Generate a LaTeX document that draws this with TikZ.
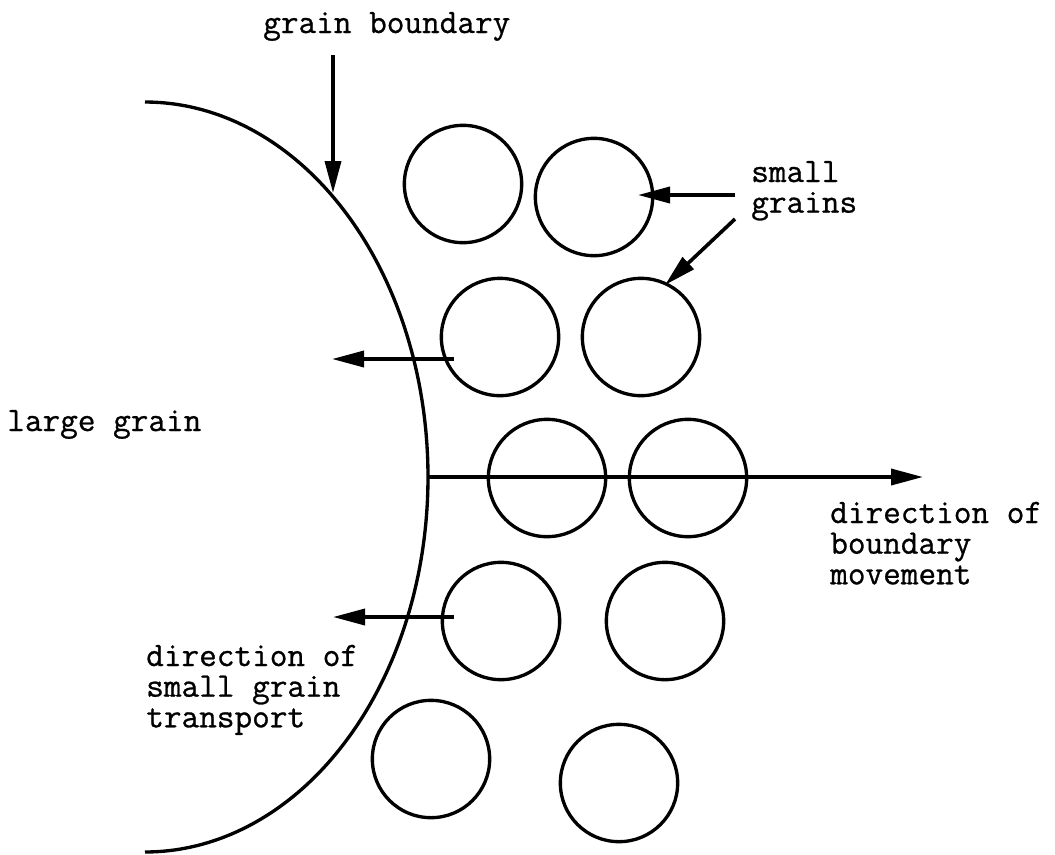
\documentclass[tikz,border=0pt]{standalone}
\usepackage{fontspec}
\setmonofont{Latin Modern Mono}[FakeBold=0.8]
\usetikzlibrary{arrows.meta}
\begin{document}
\begin{tikzpicture}[x=0.75pt, y=-0.75pt,
  grain/.style={circle, draw, line width=2.5pt, minimum size=88pt, inner sep=0pt},
  arr/.style={line width=2.7pt, -{Triangle[length=24pt, width=12pt]}},
  lbl/.style={inner sep=0pt, anchor=base west, font=\ttfamily\fontsize{25.7}{23}\selectfont},
  bnd/.style={line width=2.5pt}]
\useasboundingbox[fill=white] (0,0) rectangle (1055,854);

% grain boundary (large grain edge)
\draw[bnd] plot[domain=-90:90, samples=120, smooth] ({145+283*cos(\x)},{477+375*sin(\x)});
\coordinate (gbR) at (428,477);

% small grains
\node[grain] (c1a) at (463,184) {};
\node[grain] (c1b) at (594,197) {};
\node[grain] (c2a) at (500,337) {};
\node[grain] (c2b) at (641,337) {};
\node[grain] (c3a) at (547,478) {};
\node[grain] (c3b) at (688,478) {};
\node[grain] (c4a) at (501,621) {};
\node[grain] (c4b) at (665,621) {};
\node[grain] (c5a) at (431,759) {};
\node[grain] (c5b) at (619,783) {};

% labels
\node[lbl] (lgb) at (263,33) {grain boundary};
\node[lbl] (lsg) at (751,182) {\vtop{\hbox{small}\hbox{grains}}};
\node[lbl] (llg) at (7,431) {large grain};
\node[lbl] (ldb) at (830,523) {\vtop{\hbox{direction of}\hbox{boundary}\hbox{movement}}};
\node[lbl] (ldt) at (146,666) {\vtop{\hbox{direction of}\hbox{small grain}\hbox{transport}}};

% arrow end points
\coordinate (a1s) at (333,55);  \coordinate (a1e) at (333,193);
\coordinate (a2s) at (735,195); \coordinate (a2e) at (638,195);
\coordinate (a3s) at (735,219); \coordinate (a3e) at (665,285);
\coordinate (a4s) at (454,359); \coordinate (a4e) at (332,359);
\coordinate (a5s) at (454,617); \coordinate (a5e) at (333,617);
\coordinate (a6e) at (923,477);

\draw[arr] (a1s) -- (a1e);
\draw[arr] (a2s) -- (a2e);
\draw[arr] (a3s) -- (a3e);
\draw[arr] (a4s) -- (a4e);
\draw[arr] (a5s) -- (a5e);
\draw[arr] (gbR) -- (a6e);
\end{tikzpicture}
\end{document}
